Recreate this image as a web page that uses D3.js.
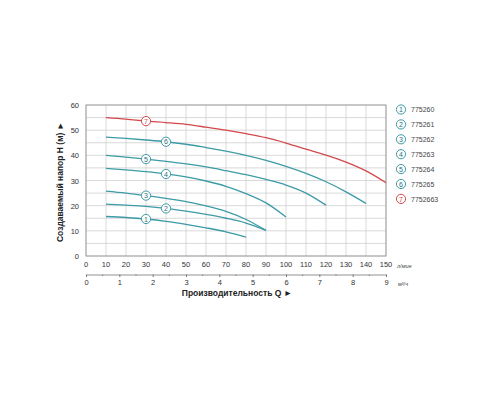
<!DOCTYPE html>
<html><head><meta charset="utf-8">
<script src="https://cdn.jsdelivr.net/npm/d3@7"></script>
<style>body{margin:0;background:#fff}svg{display:block}text{font-family:"Liberation Sans",Arial,sans-serif}</style>
</head><body><svg id="c" width="500" height="400"></svg>
<script>
const xTicks = [0,10,20,30,40,50,60,70,80,90,100,110,120,130,140,150];
const yTicks = [0,10,20,30,40,50,60];
const m3Ticks = [0,1,2,3,4,5,6,7,8,9];
const legendLabels = ["775260","775261","775262","775263","775264","775265","7752663"];
const curve1 = [[10,15.7],[20,15.3],[30,14.7],[40,13.8],[50,12.6],[60,11.2],[70,9.6],[80,7.5]];
const curve2 = [[10,20.6],[20,20.2],[30,19.7],[40,18.9],[50,17.8],[60,16.5],[70,15],[80,13.1],[90,10.2]];
const curve3 = [[10,25.8],[20,25],[30,24],[40,22.9],[50,21.6],[60,19.9],[70,17.7],[80,14.5],[90,10.2]];
const curve4 = [[10,34.8],[20,34.2],[30,33.5],[40,32.6],[50,31.4],[60,29.8],[70,27.7],[80,24.8],[90,21.1],[100,15.5]];
const curve5 = [[10,40],[20,39.3],[30,38.5],[40,37.6],[50,36.6],[60,35.4],[70,33.9],[80,32.3],[90,30.4],[100,28.2],[110,25],[120,20.2]];
const curve6 = [[10,47.2],[20,46.7],[30,46.1],[40,45.4],[50,44.4],[60,43.1],[70,41.7],[80,40],[90,38],[100,35.6],[110,32.8],[120,29.5],[130,25.5],[140,20.9]];
const curve7 = [[10,55],[20,54.4],[30,53.6],[40,53],[50,52.3],[60,51.2],[70,50],[80,48.6],[90,47],[100,44.9],[110,42.5],[120,40.1],[130,37.3],[140,33.8],[150,29.1]];
const curves = [curve1,curve2,curve3,curve4,curve5,curve6,curve7];
const markerX = [30,40,30,40,30,40,30];

const teal = "#3c9ba6", red = "#d2494c";
const colorOf = i => i===6 ? red : teal;
const svg = d3.select("#c");
const L=86,R=386,T=105,B=256;
const x = d3.scaleLinear().domain([0,150]).range([L,R]);
const y = d3.scaleLinear().domain([0,60]).range([B,T]);
const xm = d3.scaleLinear().domain([0,9]).range([L,R]);

// grid
const g = svg.append("g");
g.selectAll(".vg").data(xTicks).join("line").attr("x1",d=>x(d)).attr("x2",d=>x(d)).attr("y1",T).attr("y2",B).attr("stroke","#cfcfcf").attr("stroke-width",0.8);
g.selectAll(".hg").data(d3.range(0,61,5)).join("line").attr("y1",d=>y(d)).attr("y2",d=>y(d)).attr("x1",L).attr("x2",R).attr("stroke","#cfcfcf").attr("stroke-width",0.8);
svg.append("rect").attr("x",L).attr("y",T).attr("width",R-L).attr("height",B-T).attr("fill","none").attr("stroke","#9a9a9a").attr("stroke-width",0.9);

// tick labels
svg.selectAll(".xl").data(xTicks).join("text").attr("x",d=>x(d)).attr("y",267).attr("text-anchor","middle").attr("font-size",7.5).attr("fill","#333").text(d=>d);
svg.selectAll(".yl").data(yTicks).join("text").attr("x",79).attr("y",d=>y(d)+3).attr("text-anchor","end").attr("font-size",7.5).attr("fill","#333").text(d=>d);
svg.append("text").attr("x",397).attr("y",268).attr("font-size",5.5).attr("fill","#444").attr("font-style","italic").text("л/мин");

// second axis m3/h
const ax2 = d3.axisBottom(xm).tickValues(m3Ticks).tickSize(2.5).tickFormat(d=>d);
const a2 = svg.append("g").attr("transform","translate(0,274.5)").call(ax2);
a2.select(".domain").attr("stroke","#777").attr("stroke-width",0.8);
a2.selectAll(".tick line").attr("stroke","#777");
a2.selectAll(".tick text").attr("font-size",7.5).attr("fill","#333").attr("y",5).attr("font-family","Liberation Sans, Arial, sans-serif");
svg.selectAll(".mt").data(d3.range(0.5,9,1)).join("line").attr("x1",d=>xm(d)).attr("x2",d=>xm(d)).attr("y1",274.5).attr("y2",276).attr("stroke","#777").attr("stroke-width",0.8);
svg.append("text").attr("x",398).attr("y",286).attr("font-size",5.5).attr("fill","#444").text("м³/ч");

// titles
svg.append("text").attr("x",237).attr("y",296).attr("text-anchor","middle").attr("font-size",8.5).attr("font-weight","bold").attr("fill","#222").text("Производительность Q  ►");
svg.append("text").attr("transform","translate(63,182) rotate(-90)").attr("text-anchor","middle").attr("font-size",8.5).attr("font-weight","bold").attr("fill","#222").text("Создаваемый напор Н (м)  ►");

// curves
const line = d3.line().x(d=>x(d[0])).y(d=>y(d[1])).curve(d3.curveMonotoneX);
curves.forEach((c,i)=>{
  svg.append("path").attr("d",line(c)).attr("fill","none").attr("stroke",colorOf(i)).attr("stroke-width",1.3);
});
// markers
curves.forEach((c,i)=>{
  const mx = markerX[i];
  const pt = c.find(p=>p[0]===mx);
  const gm = svg.append("g").attr("transform",`translate(${x(pt[0])},${y(pt[1])})`);
  gm.append("circle").attr("r",4.6).attr("fill","#fff").attr("stroke",colorOf(i)).attr("stroke-width",1);
  gm.append("text").attr("y",2.6).attr("text-anchor","middle").attr("font-size",7).attr("fill",i===6?red:"#2d6f78").text(i+1);
});
// legend
legendLabels.forEach((lab,i)=>{
  const yy = 109.5 + i*14.9;
  const gl = svg.append("g").attr("transform",`translate(401,${yy})`);
  gl.append("circle").attr("r",4.6).attr("fill","#fff").attr("stroke",colorOf(i)).attr("stroke-width",1);
  gl.append("text").attr("y",2.6).attr("text-anchor","middle").attr("font-size",7).attr("fill",i===6?red:"#2d6f78").text(i+1);
  gl.append("text").attr("x",10).attr("y",2.6).attr("font-size",7).attr("fill","#444").text(lab);
});
</script></body></html>
